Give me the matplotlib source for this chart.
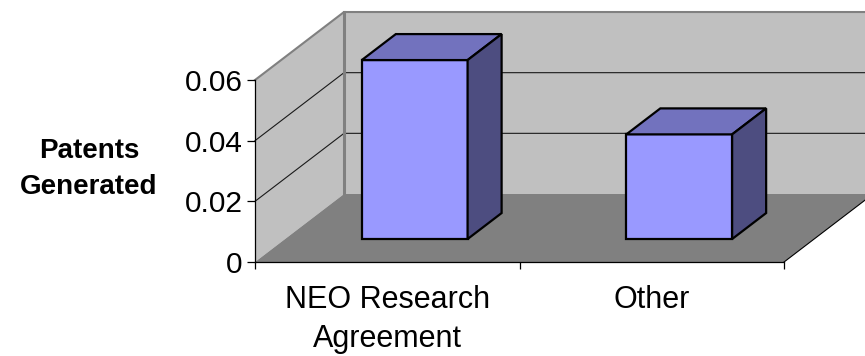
import matplotlib
matplotlib.use("Agg")
import matplotlib.pyplot as plt
from matplotlib.patches import Polygon

# Chart data
categories = ["NEO Research\nAgreement", "Other"]
values = [0.059, 0.0345]
y_ticks = [0, 0.02, 0.04, 0.06]
y_tick_labels = ["0", "0.02", "0.04", "0.06"]
y_label = "Patents\nGenerated"

plt.rcParams['font.family'] = ['Liberation Sans', 'DejaVu Sans']

W, H, DPI = 865, 356, 100
fig = plt.figure(figsize=(W / DPI, H / DPI), dpi=DPI)
fig.patch.set_facecolor("white")
ax = fig.add_axes([0, 0, 1, 1])
ax.set_facecolor("none")
ax.set_xlim(-0.964, 2.306)
ax.set_ylim(-0.03099, 0.08638)

# oblique projection: depth d in [0, 1] shifts right and up
DX, DY = 0.3365, 0.02242
D0, D1 = 0.338, 0.72          # front / back depth of the bars
BAR_W = 0.4
BAR_C = 0.49                  # bar centre within its category slot
n = len(categories)
vmax = y_ticks[-1]


def proj(u, v, d):
    return (u + DX * d, v + DY * d)


def poly(pts, **kw):
    ax.add_patch(Polygon(pts, closed=True, **kw))


wall_c = "#C0C0C0"
floor_c = "#808080"
edge_gray = "#808080"

# back wall
poly([proj(0, 0, 1), proj(n, 0, 1), proj(n, vmax, 1), proj(0, vmax, 1)],
     facecolor=wall_c, edgecolor="none", zorder=0.5)
# side wall
poly([proj(0, 0, 0), proj(0, vmax, 0), proj(0, vmax, 1), proj(0, 0, 1)],
     facecolor=wall_c, edgecolor="none", zorder=0.5)

# gridlines on both walls
for v in y_ticks[1:-1]:
    xs, ys = zip(proj(0, v, 0), proj(0, v, 1), proj(n, v, 1))
    ax.plot(xs, ys, color="#1a1a1a", lw=0.8, zorder=0.6)

# wall borders
xs, ys = zip(proj(0, vmax, 0), proj(0, vmax, 1), proj(n, vmax, 1))
ax.plot(xs, ys, color=edge_gray, lw=1.5, zorder=0.7, solid_joinstyle="miter")
xs, ys = zip(proj(0, 0, 1), proj(0, vmax, 1))
ax.plot(xs, ys, color=edge_gray, lw=2.2, zorder=0.7)

# floor
poly([proj(0, 0, 0), proj(n, 0, 0), proj(n, 0, 1), proj(0, 0, 1)],
     facecolor=floor_c, edgecolor="none", zorder=0.8)
xs, ys = zip(proj(n, 0, 0), proj(n, 0, 1))
ax.plot(xs, ys, color="black", lw=0.8, zorder=0.9)

# 3-D bars
front_c, top_c, side_c = "#9999FF", "#7272BE", "#4D4D80"
for i, v in enumerate(values):
    u0, u1 = i + BAR_C - BAR_W / 2, i + BAR_C + BAR_W / 2
    kw = dict(edgecolor="black", lw=1.6, joinstyle="miter", zorder=2)
    poly([proj(u0, 0, D0), proj(u1, 0, D0), proj(u1, v, D0), proj(u0, v, D0)],
         facecolor=front_c, **kw)
    poly([proj(u0, v, D0), proj(u1, v, D0), proj(u1, v, D1), proj(u0, v, D1)],
         facecolor=top_c, **kw)
    poly([proj(u1, 0, D0), proj(u1, 0, D1), proj(u1, v, D1), proj(u1, v, D0)],
         facecolor=side_c, **kw)

# axes lines
for s in ("top", "right"):
    ax.spines[s].set_visible(False)
ax.spines["left"].set_position(("data", 0))
ax.spines["left"].set_bounds(0, vmax)
ax.spines["bottom"].set_position(("data", 0))
ax.spines["bottom"].set_bounds(0, n)
for s in ("left", "bottom"):
    ax.spines[s].set_color("black")
    ax.spines[s].set_linewidth(0.9)
    ax.spines[s].set_zorder(3)

ax.set_yticks(y_ticks, y_tick_labels)
ax.tick_params(axis="y", direction="out", length=5.8, width=0.9, pad=3.2,
               labelsize=21.5, color="black")
ax.set_xticks(range(n + 1), [""] * (n + 1))
ax.set_xticks([i + 0.5 for i in range(n)], categories, minor=True)
ax.tick_params(axis="x", which="major", direction="out", length=5, width=0.9)
ax.tick_params(axis="x", which="minor", length=0, pad=16.8, labelsize=22)
for lab in ax.get_xticklabels(minor=True):
    lab.set_linespacing(1.36)

ax.set_ylabel(y_label, rotation=0, fontweight="bold", fontsize=20,
              linespacing=1.55, ha="center", va="center")
ax.yaxis.set_label_coords(89 / W, (H - 169) / H)

fig.savefig("out.png", dpi=DPI, facecolor="white")
